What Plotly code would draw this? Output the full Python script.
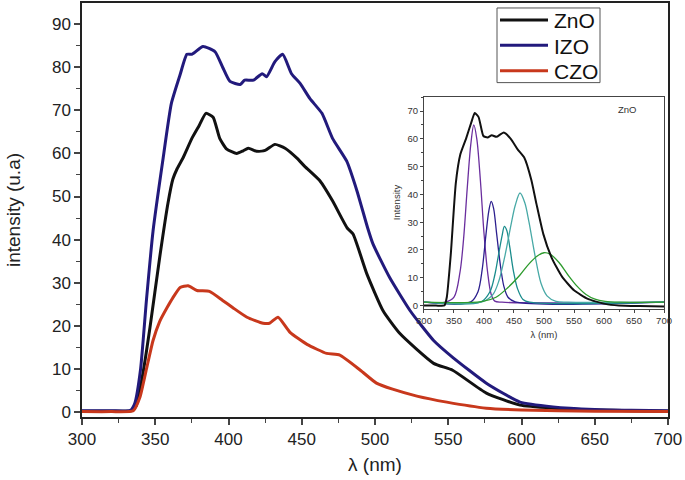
import plotly.graph_objects as go

# ---------------- main spectra ----------------
wl_zno = [300, 320, 334, 337, 341.6, 346.4, 353, 358.7, 362, 365, 369, 375, 380, 384.6, 389.5,
          394, 398.8, 405.6, 410, 413.5, 419.2, 425, 431.7, 438.6, 446.7, 452, 462.5, 471, 481,
          485, 494.5, 505.5, 517, 540, 553, 576, 599, 621.5, 650, 675, 700]
int_zno = [0.2, 0.2, 0.3, 1.5, 9, 19.6, 35.8, 48.5, 54, 56.5, 59, 63.5, 66.5, 69.3, 68.4,
           63.5, 61, 60, 60.6, 61.2, 60.5, 60.7, 62.1, 61.2, 58.9, 57, 53.6, 49, 42.7,
           41.3, 32, 23.5, 18.2, 11.3, 9.7, 4.4, 1.6, 0.9, 0.5, 0.3, 0.2]

wl_izo = [300, 320, 333, 336, 340, 344, 348.5, 355, 361, 367, 371.6, 375, 382.6, 390.8, 396,
          401, 408, 411, 417, 423, 426, 431.7, 437, 443, 449, 455.6, 463.8, 471, 480.7,
          487.7, 495, 498.6, 510, 524, 540, 553, 576, 599, 621.5, 650, 675, 700]
int_izo = [0.3, 0.3, 0.4, 2, 10, 26, 42, 58, 71.6, 78.3, 83, 83, 84.8, 83.6, 80,
           76.7, 76, 77, 77, 78.5, 77.8, 81.3, 83, 78.5, 76.2, 72.7, 69.3, 63.5, 58.2,
           51.3, 42.7, 39, 31.2, 23.5, 16.6, 12.7, 6.7, 2.3, 1.2, 0.6, 0.4, 0.3]

wl_czo = [300, 320, 335, 339.6, 344, 348.5, 353, 358, 362, 367, 372.4, 378.5, 387, 396, 403,
          412.6, 423.6, 428, 433.8, 442, 453.6, 467, 476, 490, 501, 512, 528.6, 549, 576,
          600, 650, 700]
int_czo = [0.1, 0.1, 0.3, 3.5, 10, 16.6, 21, 24.2, 26.5, 28.9, 29.3, 28.2, 28, 25.9, 24.2,
           22, 20.6, 20.6, 22, 18.5, 15.7, 13.6, 13.2, 9.7, 6.7, 5.3, 3.7, 2.3, 0.9,
           0.5, 0.2, 0.1]

# ---------------- inset: ZnO and its fitted bands ----------------
wl_in_zno = [300, 320, 334, 338, 344.6, 353, 360.6, 370, 379, 384.6, 391, 399, 406, 413,
             420.6, 433, 444.6, 456, 467.4, 478.9, 487.4, 498.9, 513, 530, 550, 573, 601.7,
             624.6, 659, 700]
int_in_zno = [0, 0, 0, 3, 18.3, 44, 54.4, 60, 66, 69.3, 67.8, 61, 60.5, 61.3,
              60.7, 62.3, 60, 56.2, 53.1, 45.2, 36.6, 25.7, 17.1, 10.4, 5.5, 2.4, 0.6,
              0, -0.2, -0.3]

wl_b1 = [300, 336, 350, 360, 366, 372, 378, 383, 388, 394, 400, 406, 412, 418, 430, 700]
int_b1 = [1.2, 1.2, 3, 12, 24, 42, 58, 65, 60, 45, 26, 12, 4, 1.6, 1.2, 1.2]

wl_b2 = [300, 378, 390, 397, 403, 408, 412, 416, 421, 427, 433, 440, 452, 700]
int_b2 = [1.2, 1.3, 5, 13, 25, 34, 37.5, 35, 26, 15, 7, 3, 1.3, 1.2]

wl_b3 = [300, 395, 410, 418, 424, 430, 434, 438, 443, 449, 456, 465, 476, 700]
int_b3 = [1.2, 1.3, 5, 11, 18, 25, 28.5, 27, 21, 12.5, 6, 2.2, 1.2, 1.2]

wl_b4 = [300, 398, 415, 425, 435, 445, 452, 460, 468, 475, 485, 495, 505, 520, 540, 700]
int_b4 = [1.2, 1.4, 4, 9, 18, 29, 36, 40.5, 37, 30, 18, 8, 3.5, 1.5, 1.2, 1.2]

wl_b5 = [300, 396, 420, 440, 460, 475, 490, 500, 510, 525, 540, 555, 570, 585, 602, 625, 700]
int_b5 = [1.2, 1.4, 3, 6.5, 11, 15, 18, 19, 18.5, 15.5, 11, 7, 4, 2.3, 1.5, 1.2, 1.2]

fig = go.Figure()

main = [("ZnO", wl_zno, int_zno, "#111111"),
        ("IZO", wl_izo, int_izo, "#221a7c"),
        ("CZO", wl_czo, int_czo, "#c8381c")]
for name, x, y, c in main:
    fig.add_trace(go.Scatter(x=x, y=y, name=name, mode="lines", showlegend=False,
                             line=dict(color=c, width=3, shape="spline", smoothing=0.5)))

bands = [(wl_b1, int_b1, "#6a2e9e"), (wl_b2, int_b2, "#2c1f8e"),
         (wl_b3, int_b3, "#1a8c8c"), (wl_b4, int_b4, "#48a9a6"),
         (wl_b5, int_b5, "#2e9b2e")]
for x, y, c in bands:
    fig.add_trace(go.Scatter(x=x, y=y, mode="lines", showlegend=False, xaxis="x2", yaxis="y2",
                             line=dict(color=c, width=1.3, shape="spline", smoothing=0.9)))
fig.add_trace(go.Scatter(x=wl_in_zno, y=int_in_zno, mode="lines", showlegend=False,
                         xaxis="x2", yaxis="y2",
                         line=dict(color="#111111", width=2, shape="spline", smoothing=0.5)))

sans = "Liberation Sans, Arial, sans-serif"
tickfont = dict(family=sans, size=17, color="#222")
small = dict(family="Liberation Sans Narrow, Liberation Sans, sans-serif", size=9.5, color="#333")

# legend drawn by hand so that the row spacing matches the original box
W, H, L, T = 586.0, 416.0, 82.0, 1.0
px = lambda x: (x - L) / W
py = lambda y: (T + H - y) / H
shapes = [dict(type="rect", xref="paper", yref="paper", x0=px(497), x1=px(600),
               y0=py(81), y1=py(6), line=dict(color="#555", width=1), fillcolor="white",
               layer="above")]
annotations = []
for i, (name, _, _, c) in enumerate(main):
    yy = 18 + 25.5 * i
    shapes.append(dict(type="line", xref="paper", yref="paper", x0=px(500), x1=px(548),
                       y0=py(yy), y1=py(yy), line=dict(color=c, width=3), layer="above"))
    annotations.append(dict(text=name, x=px(552), y=py(yy + 1), xref="paper", yref="paper",
                            showarrow=False, xanchor="left", yanchor="middle",
                            font=dict(family=sans, size=21, color="#111")))
annotations.append(dict(text="ZnO", x=0.93, y=0.76, xref="paper", yref="paper",
                        showarrow=False, font=small, xanchor="center", yanchor="top"))

fig.update_layout(
    width=685, height=480,
    margin=dict(l=82, r=17, t=1, b=63),
    paper_bgcolor="white", plot_bgcolor="white",
    showlegend=False,
    xaxis=dict(range=[300, 700], dtick=50, ticks="outside", ticklen=6, tickwidth=1.5,
               showline=True, linecolor="#222", linewidth=1.5, mirror=True, showgrid=False,
               zeroline=False, tickfont=tickfont,
               minor=dict(dtick=25, ticks="outside", ticklen=4, tickwidth=1.2),
               title=dict(text="λ (nm)", font=dict(family=sans, size=19, color="#222"),
                          standoff=10)),
    yaxis=dict(range=[-1.15, 94.9], dtick=10, ticks="outside", ticklen=6, tickwidth=1.5,
               showline=True, linecolor="#222", linewidth=1.5, mirror=True, showgrid=False,
               zeroline=False, tickfont=tickfont,
               minor=dict(dtick=5, ticks="outside", ticklen=4, tickwidth=1.2),
               title=dict(text="intensity (u.a)", font=dict(family=sans, size=19, color="#222"),
                          standoff=26)),
    xaxis2=dict(domain=[0.5836, 0.9932], anchor="y2", range=[300, 700], dtick=50,
                ticks="outside", ticklen=3, tickwidth=1, showline=True, linecolor="#444",
                linewidth=1, mirror=True, showgrid=False, zeroline=False, tickfont=small,
                minor=dict(dtick=25, ticks="outside", ticklen=2),
                title=dict(text="λ (nm)", font=small, standoff=6)),
    yaxis2=dict(domain=[0.262, 0.774], anchor="x2", range=[-1.07, 75.2], dtick=10,
                ticks="outside", ticklen=3, tickwidth=1, showline=True, linecolor="#444",
                linewidth=1, mirror=True, showgrid=False, zeroline=False, tickfont=small,
                minor=dict(dtick=5, ticks="outside", ticklen=2),
                title=dict(text="Intensity", font=small, standoff=5)),
    shapes=shapes,
    annotations=annotations,
)

# drop the page's default body margin so the figure sits at the window corner
fig.write_html("out.html", config={"displayModeBar": False},
               post_script="document.body.style.margin='0';")
